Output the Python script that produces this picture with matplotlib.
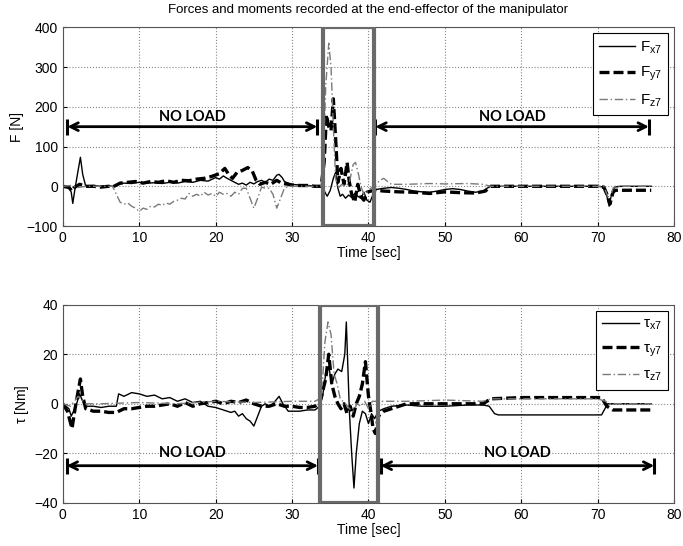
import numpy as np
import matplotlib
matplotlib.use("Agg")
from matplotlib import pyplot as plt
from matplotlib.patches import Rectangle

# ---- top panel: forces ----
t_fx = [0, 0.8, 1.1, 1.3, 1.6, 2.0, 2.3, 2.6, 3.0, 4, 5, 6, 6.8, 7.2, 8, 9, 10, 11, 12, 13, 14, 15,
        16, 17, 18, 19, 20, 20.5, 21, 21.5, 22, 22.5, 23, 23.5, 24, 24.5, 25, 25.5, 26, 26.5, 27,
        27.5, 28, 28.3, 28.7, 29, 29.5, 30, 31, 32, 33, 34, 34.3, 34.6, 35, 35.4, 35.7, 36, 36.3,
        36.6, 37, 37.4, 37.8, 38.2, 38.6, 39, 39.4, 39.8, 40.2, 40.6, 41, 42, 43, 44, 45, 46, 47,
        48, 49, 50, 51, 52, 53, 54, 55, 55.5, 56, 57, 60, 65, 70, 70.8, 71.2, 71.5, 71.8, 72.2, 73, 77]
fx = [0, -2, -15, -43, -5, 40, 73, 30, 0, 2, 0, 1, 0, 5, 8, 7, 10, 8, 9, 7, 10, 8,
      12, 10, 15, 13, 22, 18, 26, 20, 15, 10, 5, 8, 3, 10, 6, 12, 15, 10, 18,
      15, 28, 30, 22, 12, 8, 5, 3, 2, 1, 0, -15, -25, -10, 20, 35, -5, -25,
      -20, -30, -22, -28, -18, -25, -30, -15, -35, -40, -20, -8, -5, -3, -5, -8, -12, -14,
      -15, -12, -8, -6, -8, -12, -15, -12, -5, 0, 0, 0, 0, 0, -2, -25, -50, -20, -2, 0, 0]

t_fy = [0, 0.8, 1.2, 1.5, 2.2, 3, 4, 5, 6, 6.5, 7.5, 8.5, 9.5, 10.5, 11.5, 12.5, 13.5, 14.5, 15.5,
        16.5, 17.5, 18.5, 19.5, 20.5, 21.2, 21.7, 22.2, 22.8, 23.5, 24.2, 24.8, 25.3, 25.8, 26.5,
        27.2, 28, 28.6, 29.5, 30, 31, 32, 33, 33.8, 34.2, 34.5, 34.8, 35.1, 35.4, 35.7, 36, 36.4,
        36.8, 37.2, 37.5, 37.8, 38.2, 38.6, 39, 39.4, 39.8, 40.3, 41, 42, 44, 46, 48, 50, 52, 54,
        55.3, 56, 60, 65, 70, 70.8, 71.2, 71.6, 72, 72.3, 77]
fy = [0, -3, -12, -3, 5, 0, 0, -2, 0, -2, 8, 10, 12, 8, 12, 10, 14, 10, 15,
      14, 18, 20, 25, 32, 45, 30, 20, 35, 40, 47, 38, 15, 5, 10,
      5, 15, 8, 5, 3, 2, 2, 0, 0, 60, 180, 150, 140, 220, 120, 10, 45,
      5, 60, 10, -20, -40, 5, -25, -35, -15, -12, -10, -12, -14, -15, -18, -14, -16, -17,
      -12, 0, 0, 0, 0, -2, -20, -45, -15, -10, -10]

t_fz = [0, 1, 2, 3, 5, 6.5, 7, 7.5, 8, 8.5, 9, 9.5, 10, 10.5, 11, 11.5, 12, 12.5, 13, 13.5, 14,
        14.5, 15, 15.5, 16, 16.5, 17, 17.5, 18, 18.5, 19, 19.5, 20, 20.5, 21, 21.5, 22, 22.5, 23,
        23.5, 24, 24.5, 25, 25.5, 26, 26.5, 27, 27.5, 28, 28.5, 29, 29.5, 33.8, 34.1, 34.4, 34.8,
        35.1, 35.4, 35.7, 36, 36.5, 37, 37.5, 38, 38.3, 38.7, 39, 39.4, 39.8, 40.3, 41, 41.5, 42,
        42.5, 43, 45, 48, 50, 53, 55, 56, 60, 70, 70.8, 71.3, 71.6, 72, 72.3, 77]
fz = [0, 2, -3, 0, 0, 0, -20, -40, -45, -42, -50, -55, -63, -55, -58, -50, -52, -45, -48, -42, -45,
      -38, -35, -30, -32, -18, -25, -20, -25, -15, -22, -18, -25, -15, -20, -18, -25, -15, -20,
      -5, -5, -30, -55, -30, -2, -5, -5, -20, -55, -30, -5, 0, 0, 80, 250, 360,
      300, 150, 20, -5, 5, 0, 10, 55, 60, 30, 0, -20, -15, -5, 5, 15, 20,
      12, 5, 5, 7, 6, 7, 5, 0, 0, 0, 0, -25, -30, -5, 0, 0]

# ---- bottom panel: moments ----
t_tx = [0, 0.8, 1.1, 1.4, 1.8, 2.2, 2.6, 3, 4, 5, 6, 7, 7.3, 8, 9, 10, 11, 12, 13, 14, 15, 16, 17,
        18, 19, 20, 21, 22, 22.5, 23, 23.5, 24, 24.5, 25, 25.5, 26, 26.5, 27, 27.5, 28.3, 28.8,
        29.5, 30, 31, 32, 33, 33.6, 34, 34.4, 34.8, 35.2, 35.6, 36, 36.5, 36.9, 37.1, 37.3, 37.5,
        37.8, 38.1, 38.4, 38.8, 39.2, 39.6, 40, 40.4, 40.8, 41.3, 42, 43, 45, 47, 50, 53, 55,
        55.8, 56.5, 57, 60, 65, 70.5, 71.3, 72, 77]
tx = [0, -2, -5, -3, 0, 4, 1, -1, -1, -1.5, -1, -1, 4, 3, 4.5, 4, 3, 3.5, 2, 2.5, 1, 2, 0.5,
      1, -1, -1.5, -2.5, -3.5, -3, -5, -4, -6, -7, -9, -5, -1, 0, -1, 0, 3, 0,
      -3, -3, -3, -2.5, -2.5, -1, 3, 12, 15, 8, 12, 14, 13, 20, 33, 15, -3,
      -20, -34, -20, -8, -3, -4, -8, -4, -6, -3, -2, -1, -0.5, -1, -1, -0.5, -0.5,
      -1, -4, -4.5, -4.5, -4.5, -4.5, 0, 0, 0]

t_ty = [0, 0.6, 1.2, 1.6, 2.0, 2.3, 2.6, 3, 4, 5, 6, 7, 8, 9, 10, 11, 12, 13, 14, 15, 16, 17, 18,
        19, 20, 21, 22, 23, 24, 25, 26, 27, 28, 29, 30, 31, 32, 33, 33.6, 34, 34.4, 34.8, 35.2,
        35.6, 36, 36.4, 36.8, 37.2, 37.6, 38, 38.4, 38.8, 39.2, 39.6, 40, 40.3, 40.6, 40.9, 41.3,
        42, 43, 45, 47, 50, 53, 55, 56, 60, 65, 70.5, 71.2, 72, 77]
ty = [0, -3, -10, -2, 5, 10, 3, -2, -3, -3, -3.5, -3.5, -2, -2, -1.5, -1, -1, -0.5, 0, -1, 0.5, -1, 0,
      0.5, 1, 0, 1, 0.5, 1.5, 0, -1, -1, 0, -1, -1, -1.5, -1.5, -1, 0, 5, 10, 20, 8,
      3, 0, -2, 0, -4, -1, -5, 0, 3, 8, 17, 3, -3, -10, -12, -5,
      -3, -2, 0, 0, 0, 0, 0, 2, 2.5, 2.5, 2.5, -1, -2.5, -2.5]

t_tz = [0, 1, 2, 3, 5, 10, 15, 20, 25, 30, 33, 33.6, 34, 34.3, 34.7, 35.1, 35.5, 35.9, 36.3, 37,
        37.5, 38, 38.5, 39, 39.5, 40, 40.5, 41, 45, 50, 55, 56, 60, 70, 71, 71.5, 77]
tz = [0, -1, 3, 0, 0, 0.5, 0, 1, 0.5, 1, 1, 2, 10, 25, 33, 28, 12, 8, 2, 0,
      -2, -3, 0, -1, 1, -2, 1, 1, 1, 1.5, 1, 2, 2, 2, 1, 0, 0]

# load window and no-load arrows
load_top = (34.0, 40.7)
load_bot = (33.7, 41.3)
arrows_top = [(0.6, 33.3), (40.9, 76.7)]
arrows_bot = [(0.5, 33.4), (41.6, 77.4)]

plt.rcParams['font.family'] = ['Liberation Sans', 'DejaVu Sans']
plt.rcParams['mathtext.fontset'] = 'custom'
plt.rcParams['mathtext.rm'] = 'Liberation Sans'
plt.rcParams['mathtext.it'] = 'Liberation Sans'

fig = plt.figure(figsize=(6.83, 5.46), dpi=100)
ax1 = fig.add_axes([0.092, 0.586, 0.895, 0.364])
ax2 = fig.add_axes([0.092, 0.079, 0.895, 0.363])

styles = [dict(color='black', lw=1.0, ls='-'),
          dict(color='black', lw=2.4, ls=(0, (3, 1.2))),
          dict(color='#7a7a7a', lw=1.0, ls=(0, (6, 2, 1, 2)))]


def setup(ax, ylim, yticks, ylabel):
    ax.set_xlim(0, 80)
    ax.set_ylim(*ylim)
    ax.set_xticks(range(0, 81, 10))
    ax.set_yticks(yticks)
    ax.grid(True, ls=':', color='#888888', lw=0.8)
    ax.tick_params(labelsize=10, direction='in', length=3)
    ax.set_xlabel('Time [sec]', fontsize=10, labelpad=1)
    ax.set_ylabel(ylabel, fontsize=10, labelpad=2)
    for s in ax.spines.values():
        s.set_color('#555555')


def no_load(ax, spans, y, ty):
    for a, b in spans:
        ax.annotate('', xy=(b, y), xytext=(a, y),
                    arrowprops=dict(arrowstyle='<->', lw=2.0, color='black',
                                    mutation_scale=14, shrinkA=0, shrinkB=0))
        ax.plot([a, b], [y, y], ls='none', marker='|', ms=11, mew=2.2, color='black')
        ax.text((a + b) / 2, ty, 'NO LOAD', ha='center', va='center',
                fontsize=10.5, fontweight='bold', family='Lato')


def legend(ax):
    leg = ax.legend(loc='upper right', fontsize=11, handlelength=2.4, handletextpad=0.3,
                    labelspacing=0.6, fancybox=False, edgecolor='black', framealpha=1,
                    borderpad=0.4, borderaxespad=0.4)
    leg.get_frame().set_linewidth(0.8)


# top
ax1.plot(t_fx, fx, label='$F_{x7}$', **styles[0])
ax1.plot(t_fy, fy, label='$F_{y7}$', **styles[1])
ax1.plot(t_fz, fz, label='$F_{z7}$', **styles[2])
setup(ax1, (-100, 400), range(-100, 401, 100), 'F [N]')
ax1.add_patch(Rectangle((load_top[0], -100), load_top[1] - load_top[0], 500,
                        fill=False, ec='#6a6a6a', lw=3, zorder=5))
no_load(ax1, arrows_top, 150, 175)
ax1.set_title('Forces and moments recorded at the end-effector of the manipulator',
              fontsize=9.5, pad=10)
legend(ax1)

# bottom
ax2.plot(t_tx, tx, label=r'$\tau_{x7}$', **styles[0])
ax2.plot(t_ty, ty, label=r'$\tau_{y7}$', **styles[1])
ax2.plot(t_tz, tz, label=r'$\tau_{z7}$', **styles[2])
setup(ax2, (-40, 40), range(-40, 41, 20), r'$\tau$ [Nm]')
ax2.add_patch(Rectangle((load_bot[0], -40), load_bot[1] - load_bot[0], 80,
                        fill=False, ec='#6a6a6a', lw=3, zorder=5))
no_load(ax2, arrows_bot, -25, -20)
legend(ax2)

fig.savefig('out.png', dpi=100)
